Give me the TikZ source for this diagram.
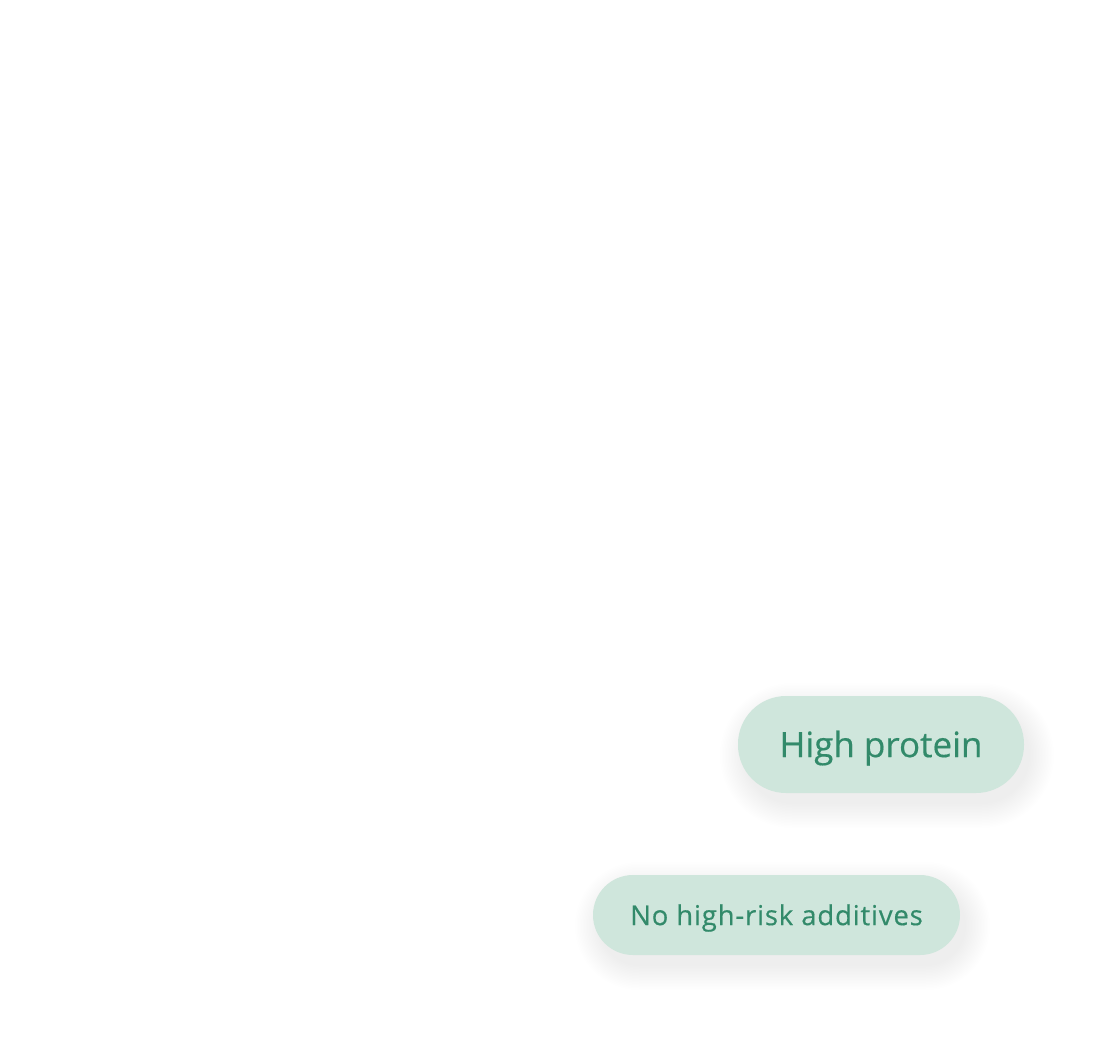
\documentclass[tikz,border=0pt]{standalone}
\usepackage{fontspec}
\setmainfont{Open Sans}
\newfontfamily\pillfont[FakeBold=0.4]{Open Sans}
\definecolor{pillfill}{RGB}{207,230,220}
\definecolor{pilltext}{RGB}{50,138,106}
\tikzset{
  pill/.style={draw=none, fill=pillfill, inner sep=0pt, rounded corners=#1},
  pilllabel/.style={text=pilltext, inner sep=0pt},
}
\newcommand\pillshadow[4]{%
  \foreach \r in {0,1.5,...,24}{%
    \fill[black, opacity=0.0045, rounded corners={#4/2+\r}]
      ({#1-#3/2-\r+6},{#2-#4/2-\r+11}) rectangle ({#1+#3/2+\r+6},{#2+#4/2+\r+11});
  }%
}
\begin{document}
\begin{tikzpicture}[x=1pt,y=-1pt]
\useasboundingbox[fill=white] (0,0) rectangle (1096,1050);
\pillshadow{881}{744.5}{286}{97}
\pillshadow{776.5}{915}{367}{80}
\node[pill=48pt, minimum width=286pt, minimum height=97pt] (hp) at (881,744.5) {};
\node[pilllabel, font=\pillfont\fontsize{35}{40}\selectfont, yshift=-3.5pt] (hpt) at (hp.center) {High protein};
\node[pill=40pt, minimum width=367pt, minimum height=80pt] (nh) at (776.5,915) {};
\node[pilllabel, font=\pillfont\fontsize{27.5}{30}\selectfont\addfontfeatures{LetterSpace=3}, yshift=-3pt] (nht) at (nh.center) {No high-risk additives};
\end{tikzpicture}
\end{document}
